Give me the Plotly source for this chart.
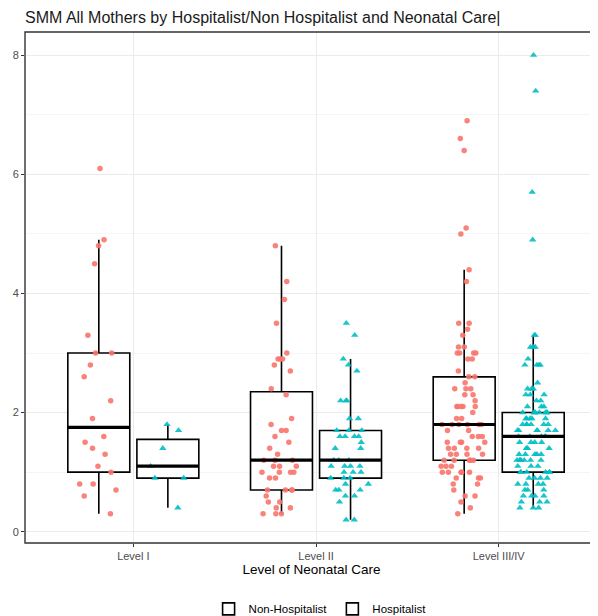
import numpy as np
import plotly.graph_objects as go

levels = ["Level I", "Level II", "Level III/IV"]
series_names = ["Non-Hospitalist", "Hospitalist"]

non_hosp_level1 = [6.1, 4.9, 4.8, 4.5, 3.3, 3.0, 3.0, 2.8, 2.6, 2.2, 1.9, 1.6, 1.5, 1.4,
                   1.3, 1.1, 1.0, 0.8, 0.8, 0.7, 0.6, 0.3]
hosp_level1 = [1.8, 1.7, 1.4, 1.1, 0.9, 0.9, 0.4]

non_hosp_level2 = [0.3, 0.3, 0.3, 0.4, 0.4, 0.5, 0.5, 0.6, 0.7, 0.7, 0.7, 0.7, 0.9, 0.9,
                   1.0, 1.0, 1.0, 1.0, 1.1, 1.1, 1.1, 1.2, 1.2, 1.2, 1.3, 1.4, 1.5, 1.6,
                   1.7, 1.7, 1.8, 1.9, 2.3, 2.4, 2.7, 2.8, 2.9, 2.9, 2.9, 3.0, 3.5, 3.9,
                   4.2, 4.8]
hosp_level2 = [0.2, 0.2, 0.5, 0.6, 0.6, 0.7, 0.7, 0.7, 0.8, 0.8, 0.9, 0.9, 0.9, 1.0,
               1.0, 1.0, 1.1, 1.1, 1.1, 1.1, 1.2, 1.2, 1.2, 1.4, 1.4, 1.5, 1.6, 1.6,
               1.6, 1.6, 1.7, 1.7, 1.7, 1.9, 1.9, 2.2, 2.2, 2.2, 2.7, 2.8, 2.9, 3.3, 3.5]

non_hosp_level3 = [0.3, 0.4, 0.5, 0.6, 0.6, 0.7, 0.8, 0.8, 0.9, 0.9, 0.9, 1.0, 1.0, 1.0,
                   1.0, 1.0, 1.1, 1.1, 1.1, 1.2, 1.2, 1.2, 1.2, 1.2, 1.3, 1.3, 1.3, 1.3,
                   1.4, 1.4, 1.4, 1.4, 1.5, 1.5, 1.5, 1.5, 1.6, 1.6, 1.6, 1.7, 1.7, 1.8,
                   1.8, 1.8, 1.8, 1.8, 1.8, 1.9, 1.9, 2.0, 2.1, 2.1, 2.1, 2.1, 2.1, 2.2,
                   2.3, 2.3, 2.4, 2.4, 2.4, 2.5, 2.6, 2.6, 2.7, 2.9, 2.9, 3.0, 3.0, 3.0,
                   3.0, 3.1, 3.1, 3.3, 3.4, 3.5, 3.5, 4.2, 4.4, 5.0, 5.1, 6.4, 6.6, 6.9]
hosp_level3 = [0.4, 0.4, 0.4, 0.5, 0.5, 0.5, 0.6, 0.6, 0.6, 0.6, 0.7, 0.7, 0.7, 0.8,
               0.8, 0.8, 0.8, 0.9, 0.9, 0.9, 0.9, 1.0, 1.0, 1.0, 1.0, 1.0, 1.0, 1.1,
               1.1, 1.1, 1.2, 1.2, 1.2, 1.2, 1.2, 1.2, 1.2, 1.3, 1.3, 1.3, 1.3, 1.3,
               1.4, 1.4, 1.4, 1.5, 1.5, 1.5, 1.5, 1.6, 1.6, 1.6, 1.6, 1.6, 1.7, 1.7,
               1.7, 1.7, 1.7, 1.7, 1.8, 1.8, 1.8, 1.8, 1.8, 1.8, 1.9, 1.9, 1.9, 1.9,
               1.9, 2.0, 2.0, 2.0, 2.0, 2.0, 2.0, 2.0, 2.0, 2.1, 2.1, 2.1, 2.2, 2.2,
               2.3, 2.3, 2.3, 2.4, 2.4, 2.4, 2.5, 2.8, 2.8, 2.8, 2.8, 2.9, 3.1, 3.1,
               3.1, 3.3, 3.3, 4.9, 5.7, 7.4, 8.0]

non_hosp_groups = [non_hosp_level1, non_hosp_level2, non_hosp_level3]
hosp_groups = [hosp_level1, hosp_level2, hosp_level3]

colors = ["#F8766D", "#00BFC4"]
symbols = ["circle", "triangle-up"]
sizes = [5.5, 6.5]
FONT = "Liberation Sans, Arial, sans-serif"

BOXGAP = 0.244
GROUPGAP = 0.103

# page body adds an 8px offset, so the figure is 8px smaller than the window
W, H = 590, 608

fig = go.Figure()
for k, groups in enumerate([non_hosp_groups, hosp_groups]):
    xs, ys = [], []
    for lev, vals in zip(levels, groups):
        xs += [lev] * len(vals)
        ys += list(vals)
    fig.add_trace(go.Box(
        x=xs, y=ys, name=series_names[k],
        boxpoints="all", jitter=0.75, pointpos=0,
        quartilemethod="inclusive",
        fillcolor="white",
        line=dict(color="black", width=1.6),
        whiskerwidth=0,
        marker=dict(color=colors[k], symbol=symbols[k], size=sizes[k], opacity=0.9,
                    line=dict(width=0)),
        hoverinfo="y",
    ))

# thicker median bars (ggplot style), computed from the data
half_slot = (1 - BOXGAP) / 4
half_w = (1 - BOXGAP) * (1 - GROUPGAP) / 4
shapes = []
for k, groups in enumerate([non_hosp_groups, hosp_groups]):
    off = -half_slot if k == 0 else half_slot
    for i, vals in enumerate(groups):
        med = float(np.median(vals))
        shapes.append(dict(type="line", xref="x", yref="y",
                           x0=i + off - half_w, x1=i + off + half_w, y0=med, y1=med,
                           line=dict(color="black", width=3.2), layer="above"))
# panel border (right side runs off the picture)
shapes.append(dict(type="rect", xref="paper", yref="paper", x0=0, x1=1.05, y0=0, y1=1,
                   line=dict(color="#333333", width=1.4), layer="above"))

fig.update_layout(
    width=W, height=H,
    margin=dict(l=17, r=0, t=24, b=73, autoexpand=False),
    paper_bgcolor="white", plot_bgcolor="white",
    boxmode="group", boxgap=BOXGAP, boxgroupgap=GROUPGAP,
    font=dict(family=FONT, color="black"),
    title=dict(text="SMM All Mothers by Hospitalist/Non Hospitalist and Neonatal Care|",
               x=0, xref="paper", xanchor="left", y=1 - 9 / H, yanchor="middle",
               font=dict(size=16, color="#1a1a1a", family=FONT)),
    showlegend=True,
    legend=dict(orientation="h", x=0.515, xanchor="center", y=-0.129, yanchor="middle",
                font=dict(size=11.5, color="black"), traceorder="normal",
                itemwidth=30, bgcolor="rgba(0,0,0,0)"),
    shapes=shapes,
)
fig.update_xaxes(
    automargin=False,
    categoryorder="array", categoryarray=levels,
    range=[-0.593, 2.5435],
    showgrid=True, gridcolor="#EBEBEB", gridwidth=1,
    zeroline=False, showline=False,
    ticks="outside", ticklen=3, tickcolor="#333333", tickwidth=1,
    tickfont=dict(size=11, color="#4D4D4D"),
    title=dict(text="Level of Neonatal Care", font=dict(size=13.5, color="black"), standoff=3),
)
fig.update_yaxes(
    automargin=False,
    range=[-0.19, 8.39],
    tickvals=[0, 2, 4, 6, 8],
    showgrid=True, gridcolor="#EBEBEB", gridwidth=1,
    minor=dict(dtick=1, showgrid=True, gridcolor="#F5F5F5", gridwidth=0.8, tick0=0),
    zeroline=False, showline=False,
    ticks="outside", ticklen=3, tickcolor="#333333", tickwidth=1,
    tickfont=dict(size=11, color="#4D4D4D"),
)

fig.write_html("out.html")
